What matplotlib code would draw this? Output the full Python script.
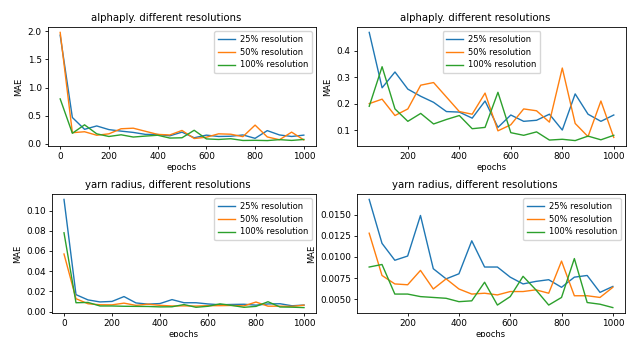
import matplotlib
matplotlib.use("Agg")
import matplotlib.pyplot as plt

epochs = [0, 50, 100, 150, 200, 250, 300, 350, 400, 450, 500,
          550, 600, 650, 700, 750, 800, 850, 900, 950, 1000]

alpha_25 = [1.93, 0.47, 0.26, 0.32, 0.255, 0.228, 0.205, 0.17, 0.168, 0.145, 0.21,
            0.11, 0.157, 0.133, 0.137, 0.16, 0.10, 0.237, 0.16, 0.133, 0.157]
alpha_50 = [1.98, 0.20, 0.217, 0.155, 0.18, 0.27, 0.28, 0.225, 0.17, 0.16, 0.24,
            0.097, 0.12, 0.18, 0.173, 0.13, 0.335, 0.125, 0.075, 0.21, 0.072]
alpha_100 = [0.80, 0.19, 0.34, 0.18, 0.133, 0.163, 0.123, 0.14, 0.155, 0.105, 0.11,
             0.243, 0.09, 0.08, 0.093, 0.062, 0.065, 0.06, 0.077, 0.063, 0.08]

yarn_25 = [0.111, 0.0168, 0.0116, 0.0096, 0.0101, 0.0149, 0.0086, 0.0074, 0.0080, 0.0119, 0.0088,
           0.0088, 0.0076, 0.0068, 0.0071, 0.0073, 0.0064, 0.0076, 0.0078, 0.0058, 0.0065]
yarn_50 = [0.057, 0.0128, 0.0078, 0.0068, 0.0067, 0.0084, 0.0062, 0.0074, 0.0062, 0.0056, 0.0057,
           0.0055, 0.0059, 0.0059, 0.0061, 0.0057, 0.0095, 0.0054, 0.0054, 0.0052, 0.0064]
yarn_100 = [0.078, 0.0088, 0.0091, 0.0056, 0.0056, 0.0053, 0.0052, 0.0051, 0.0047, 0.0048, 0.0070,
            0.0043, 0.0053, 0.0077, 0.0061, 0.0043, 0.0052, 0.0098, 0.0046, 0.0044, 0.0040]

labels = ["25% resolution", "50% resolution", "100% resolution"]
titles = ["alphaply. different resolutions", "yarn radius, different resolutions"]

W, H = 634, 337
fig = plt.figure(figsize=(W / 100, H / 100), dpi=100)

def rect(x0, x1, y0, y1):
    return [x0 / W, 1 - y1 / H, (x1 - x0) / W, (y1 - y0) / H]

panels = [
    (rect(48, 316, 27, 146), titles[0], (alpha_25, alpha_50, alpha_100), 0, "upper right"),
    (rect(357, 626, 27, 146), titles[0], (alpha_25, alpha_50, alpha_100), 1, "upper center"),
    (rect(52, 316, 194, 313), titles[1], (yarn_25, yarn_50, yarn_100), 0, "upper right"),
    (rect(357, 625, 194, 313), titles[1], (yarn_25, yarn_50, yarn_100), 1, "upper right"),
]

for pos, title, series, start, loc in panels:
    ax = fig.add_axes(pos)
    for s, lab in zip(series, labels):
        ax.plot(epochs[start:], s[start:], label=lab, linewidth=1.0)
    ax.set_title(title, fontsize=7.3, pad=4, x=0.44)
    ax.set_xlabel("epochs", fontsize=6, labelpad=1.5)
    ax.set_ylabel("MAE", fontsize=6, labelpad=3)
    ax.tick_params(labelsize=6.4, length=2.5, width=0.6, pad=2)
    for sp in ax.spines.values():
        sp.set_linewidth(0.6)
    ax.legend(loc=loc, fontsize=6, handlelength=2.0, borderpad=0.45,
              labelspacing=0.45, handletextpad=0.6)

fig.savefig("out.png", dpi=100)
